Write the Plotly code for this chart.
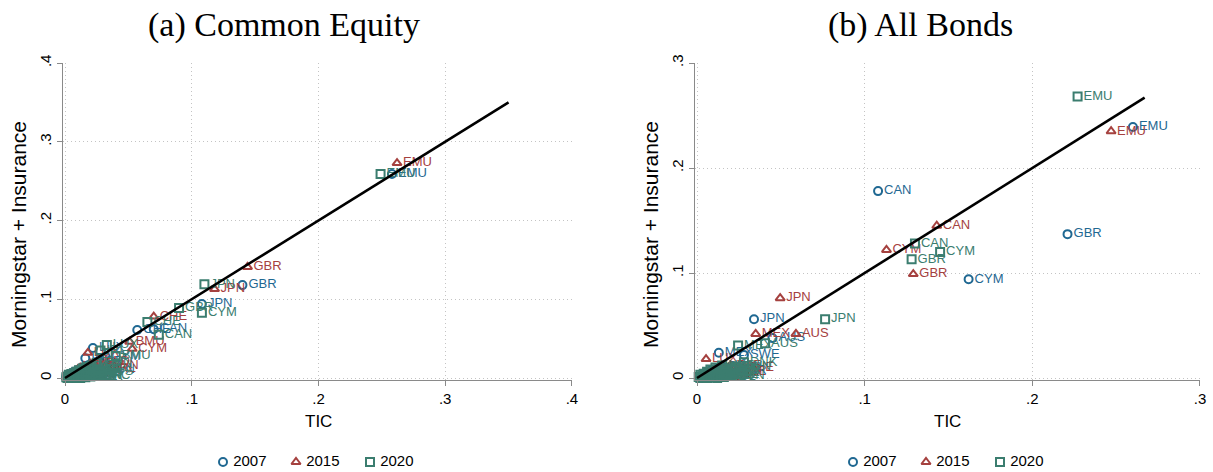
import plotly.graph_objects as go

W, H = 1213, 472

# ---------------- DATA ----------------
years = ["2007", "2015", "2020"]
colors = {"2007": "#1f6892", "2015": "#a5413f", "2020": "#3b7d6f"}
symbols = {"2007": "circle-open", "2015": "triangle-up-open", "2020": "square-open"}

# (a) Common Equity
eq_2007_x = [0.258, 0.140, 0.108, 0.070, 0.057, 0.032, 0.022, 0.016, 0.001, 0.002, 0.003, 0.004, 0.005, 0.006,
             0.007, 0.008, 0.009, 0.010, 0.011, 0.012, 0.013, 0.014, 0.015, 0.017, 0.018, 0.019, 0.020, 0.024, 0.027]
eq_2007_y = [0.259, 0.118, 0.094, 0.062, 0.061, 0.027, 0.038, 0.025, 0.002, 0.001, 0.004, 0.002, 0.006, 0.003,
             0.008, 0.004, 0.005, 0.010, 0.006, 0.012, 0.003, 0.009, 0.014, 0.007, 0.016, 0.005, 0.013, 0.020, 0.010]
eq_2007_lab = ["EMU", "GBR", "JPN", "CAN", "CHE", "CYM", "LUX", "IRL", "AUT", "BEL", "DNK", "FIN", "FRA", "DEU",
               "ITA", "NLD", "NOR", "ESP", "SWE", "KOR", "CHN", "IND", "BRA", "HKG", "SGP", "ZAF", "NZL", "ISR", "TWN"]

eq_2015_x = [0.262, 0.144, 0.118, 0.070, 0.051, 0.053, 0.018, 0.035, 0.026, 0.001, 0.002, 0.003, 0.004, 0.005,
             0.006, 0.007, 0.008, 0.009, 0.010, 0.011, 0.012, 0.013, 0.014, 0.015, 0.016, 0.018, 0.020, 0.022, 0.030]
eq_2015_y = [0.273, 0.141, 0.113, 0.078, 0.046, 0.037, 0.032, 0.012, 0.020, 0.001, 0.003, 0.002, 0.005, 0.003,
             0.007, 0.004, 0.009, 0.006, 0.011, 0.004, 0.013, 0.008, 0.006, 0.015, 0.010, 0.012, 0.018, 0.009, 0.016]
eq_2015_lab = ["EMU", "GBR", "JPN", "CHE", "BMU", "CYM", "LUX", "IRL", "NLD", "AUT", "BEL", "DNK", "FIN", "FRA",
               "DEU", "ITA", "NOR", "ESP", "SWE", "KOR", "CHN", "IND", "BRA", "HKG", "SGP", "ZAF", "NZL", "ISR", "TWN"]

eq_2020_x = [0.249, 0.110, 0.090, 0.108, 0.065, 0.074, 0.033, 0.028, 0.040, 0.001, 0.002, 0.003, 0.004, 0.005,
             0.006, 0.007, 0.008, 0.009, 0.010, 0.011, 0.012, 0.013, 0.014, 0.015, 0.016, 0.017, 0.019, 0.021, 0.023,
             0.025, 0.027, 0.002, 0.004, 0.006, 0.008, 0.010, 0.012, 0.014, 0.016, 0.018, 0.020, 0.022, 0.024]
eq_2020_y = [0.259, 0.119, 0.089, 0.083, 0.071, 0.055, 0.042, 0.035, 0.028, 0.001, 0.002, 0.004, 0.001, 0.005,
             0.003, 0.006, 0.002, 0.008, 0.004, 0.010, 0.003, 0.007, 0.012, 0.005, 0.009, 0.014, 0.006, 0.016, 0.011,
             0.019, 0.008, 0.000, 0.001, 0.000, 0.003, 0.001, 0.000, 0.002, 0.001, 0.003, 0.002, 0.004, 0.003]
eq_2020_lab = ["EMU", "JPN", "GBR", "CYM", "CHE", "CAN", "LUX", "IRL", "BMU", "AUT", "BEL", "DNK", "FIN", "FRA",
               "DEU", "ITA", "NLD", "NOR", "ESP", "SWE", "KOR", "CHN", "IND", "BRA", "HKG", "SGP", "ZAF", "NZL", "ISR",
               "TWN", "MYS", "THA", "IDN", "PHL", "CHL", "COL", "PER", "POL", "CZE", "HUN", "TUR", "PRT", "GRC"]

eq_line_x = [0.0, 0.35]
eq_line_y = [0.0, 0.35]

# (b) All Bonds
bd_2007_x = [0.260, 0.108, 0.221, 0.162, 0.034, 0.045, 0.013, 0.028, 0.002, 0.003, 0.004, 0.005, 0.006, 0.007,
             0.008, 0.009, 0.010, 0.011, 0.012, 0.014, 0.015, 0.016, 0.018, 0.020, 0.022, 0.025]
bd_2007_y = [0.239, 0.178, 0.137, 0.094, 0.056, 0.038, 0.024, 0.022, 0.001, 0.003, 0.002, 0.005, 0.001, 0.004,
             0.007, 0.002, 0.006, 0.003, 0.009, 0.004, 0.011, 0.006, 0.008, 0.005, 0.010, 0.007]
bd_2007_lab = ["EMU", "CAN", "GBR", "CYM", "JPN", "AUS", "MEX", "SWE", "AUT", "BEL", "DNK", "FIN", "FRA", "DEU",
               "ITA", "NLD", "NOR", "KOR", "CHN", "IND", "BRA", "HKG", "SGP", "ZAF", "NZL", "ISR"]

bd_2015_x = [0.247, 0.143, 0.113, 0.129, 0.0496, 0.035, 0.059, 0.0054, 0.026, 0.002, 0.003, 0.004, 0.005, 0.006,
             0.007, 0.008, 0.009, 0.010, 0.011, 0.012, 0.013, 0.015, 0.016, 0.018, 0.020, 0.023]
bd_2015_y = [0.235, 0.145, 0.122, 0.099, 0.076, 0.042, 0.042, 0.018, 0.010, 0.002, 0.001, 0.004, 0.002, 0.006,
             0.003, 0.005, 0.001, 0.008, 0.004, 0.003, 0.007, 0.005, 0.009, 0.004, 0.012, 0.006]
bd_2015_lab = ["EMU", "CAN", "CYM", "GBR", "JPN", "MEX", "AUS", "LUX", "CHE", "AUT", "BEL", "DNK", "FIN", "FRA",
               "DEU", "ITA", "NLD", "NOR", "KOR", "CHN", "IND", "BRA", "HKG", "SGP", "ZAF", "NZL"]

bd_2020_x = [0.227, 0.130, 0.145, 0.128, 0.0764, 0.0406, 0.0245, 0.028, 0.001, 0.002, 0.003, 0.004, 0.005, 0.006,
             0.007, 0.008, 0.009, 0.010, 0.011, 0.012, 0.013, 0.014, 0.015, 0.016, 0.017, 0.019, 0.021, 0.023,
             0.002, 0.004, 0.006, 0.008, 0.010, 0.012, 0.014, 0.016, 0.018, 0.020]
bd_2020_y = [0.268, 0.128, 0.120, 0.113, 0.056, 0.033, 0.031, 0.015, 0.001, 0.003, 0.001, 0.004, 0.002, 0.006,
             0.003, 0.008, 0.004, 0.002, 0.010, 0.005, 0.007, 0.003, 0.012, 0.006, 0.009, 0.005, 0.008, 0.011,
             0.000, 0.001, 0.000, 0.002, 0.001, 0.000, 0.002, 0.001, 0.003, 0.002]
bd_2020_lab = ["EMU", "CAN", "CYM", "GBR", "JPN", "AUS", "MEX", "DNK", "AUT", "BEL", "FIN", "FRA", "DEU", "ITA",
               "NLD", "NOR", "ESP", "SWE", "KOR", "CHN", "IND", "BRA", "HKG", "SGP", "ZAF", "NZL", "ISR", "TWN",
               "MYS", "THA", "IDN", "PHL", "CHL", "COL", "PER", "POL", "CZE", "HUN"]

bd_line_x = [0.0, 0.267]
bd_line_y = [0.0, 0.267]

eq_ticks = [0, 0.1, 0.2, 0.3, 0.4]
eq_ticklabels = ["0", ".1", ".2", ".3", ".4"]
bd_ticks = [0, 0.1, 0.2, 0.3]
bd_ticklabels = ["0", ".1", ".2", ".3"]

titles = ["(a) Common Equity", "(b) All Bonds"]
xtitle = "TIC"
ytitle = "Morningstar + Insurance"

# ---------------- FIGURE ----------------
SANS = "Liberation Sans, Arial, sans-serif"
fig = go.Figure()

panels = [
    ("x", "y", {"2007": (eq_2007_x, eq_2007_y, eq_2007_lab),
                "2015": (eq_2015_x, eq_2015_y, eq_2015_lab),
                "2020": (eq_2020_x, eq_2020_y, eq_2020_lab)}, eq_line_x, eq_line_y),
    ("x2", "y2", {"2007": (bd_2007_x, bd_2007_y, bd_2007_lab),
                  "2015": (bd_2015_x, bd_2015_y, bd_2015_lab),
                  "2020": (bd_2020_x, bd_2020_y, bd_2020_lab)}, bd_line_x, bd_line_y),
]

for xa, ya, d, lx, ly in panels:
    for yr in years:
        xs, ys, labs = d[yr]
        fig.add_trace(go.Scatter(
            x=xs, y=ys, text=labs, mode="markers+text", name=yr,
            xaxis=xa, yaxis=ya, showlegend=False,
            textposition="middle right",
            textfont=dict(family=SANS, size=13, color=colors[yr]),
            marker=dict(symbol=symbols[yr], size=8, color=colors[yr], line=dict(width=2, color=colors[yr])),
            cliponaxis=False,
        ))
    fig.add_trace(go.Scatter(x=lx, y=ly, mode="lines", xaxis=xa, yaxis=ya,
                             line=dict(color="black", width=2.6), showlegend=False, hoverinfo="skip"))

# Legend drawn on a hidden strip axis measured in pixels
legend_centers = [318, 948]
legend_offsets = [-95, -22, 52]
for c in legend_centers:
    for off, yr in zip(legend_offsets, years):
        fig.add_trace(go.Scatter(
            x=[c + off], y=[0.5], text=["\u00a0" + yr], mode="markers+text", xaxis="x3", yaxis="y3",
            showlegend=False, hoverinfo="skip", textposition="middle right",
            textfont=dict(family=SANS, size=15, color="black"),
            marker=dict(symbol=symbols[yr], size=8, color=colors[yr], line=dict(width=2, color=colors[yr])),
            cliponaxis=False,
        ))


def px_x(p):
    return p / W


def px_y(p):
    return 1 - p / H


axis_common = dict(
    showline=True, linecolor="#8a8a8a", linewidth=1,
    ticks="outside", ticklen=5, tickcolor="#8a8a8a",
    showgrid=True, gridcolor="#c4c4c4", griddash="1px,3px", gridwidth=1,
    zeroline=False, automargin=False,
    tickfont=dict(family=SANS, size=15, color="black"),
)

fig.update_layout(
    width=W, height=H, autosize=False,
    margin=dict(l=0, r=0, t=0, b=0, pad=0, autoexpand=False),
    paper_bgcolor="white", plot_bgcolor="white",
    showlegend=False,
    xaxis=dict(domain=[px_x(63), px_x(572.3)], range=[-0.0016, 0.4003], tickvals=eq_ticks,
               ticktext=eq_ticklabels, anchor="y", **axis_common),
    yaxis=dict(domain=[px_y(380), px_y(62.8)], range=[-0.00254, 0.4003], tickvals=eq_ticks,
               ticktext=eq_ticklabels, tickangle=-90, anchor="x", **axis_common),
    xaxis2=dict(domain=[px_x(695), px_x(1200.3)], range=[-0.0012, 0.3002], tickvals=bd_ticks,
                ticktext=bd_ticklabels, anchor="y2", **axis_common),
    yaxis2=dict(domain=[px_y(380), px_y(62.8)], range=[-0.0019, 0.3002], tickvals=bd_ticks,
                ticktext=bd_ticklabels, tickangle=-90, anchor="x2", **axis_common),
    xaxis3=dict(domain=[0, 1], range=[0, W], visible=False, anchor="y3", automargin=False, fixedrange=True),
    yaxis3=dict(domain=[px_y(472), px_y(452)], range=[0, 1], visible=False, anchor="x3", automargin=False,
                fixedrange=True),
)

ann = []
for cx, t in [(284, titles[0]), (920, titles[1])]:
    ann.append(dict(text=t, x=px_x(cx), y=px_y(25), xref="paper", yref="paper", showarrow=False,
                    xanchor="center", yanchor="middle",
                    font=dict(family="Liberation Serif, Times New Roman, serif", size=34, color="black")))
for cx in [318, 948]:
    ann.append(dict(text=xtitle, x=px_x(cx), y=px_y(421), xref="paper", yref="paper", showarrow=False,
                    xanchor="center", yanchor="middle",
                    font=dict(family=SANS, size=17, color="black")))
for cx, cy in [(18, 235), (650, 235)]:
    ann.append(dict(text=ytitle, x=px_x(cx), y=px_y(cy), xref="paper", yref="paper", showarrow=False,
                    xanchor="center", yanchor="middle", textangle=-90,
                    font=dict(family=SANS, size=21, color="black")))
fig.update_layout(annotations=ann)

fig.write_html("out.html", config={"displayModeBar": False},
               post_script="document.body.style.margin='0';document.body.style.overflow='hidden';")
